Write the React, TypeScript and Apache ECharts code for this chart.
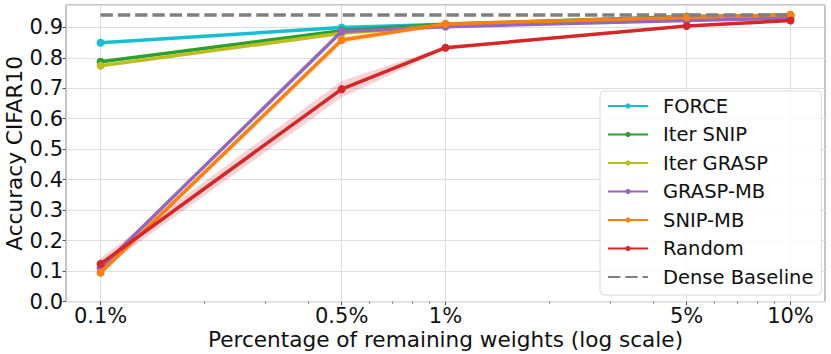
import React, { useEffect, useRef } from "react";
import * as echarts from "echarts";

// ---- data ----
const xValues = [0.1, 0.5, 1, 5, 10];
const xTickLabels = ["0.1%", "0.5%", "1%", "5%", "10%"];
const xMinorTicks = [0.2, 0.3, 0.4, 0.6, 0.7, 0.8, 0.9, 2, 3, 4, 6, 7, 8, 9];

const seriesNames = ["FORCE", "Iter SNIP", "Iter GRASP", "GRASP-MB", "SNIP-MB", "Random", "Dense Baseline"];
const force = [0.849, 0.899, 0.91, 0.932, 0.936];
const iterSnip = [0.787, 0.889, 0.91, 0.935, 0.94];
const iterGrasp = [0.774, 0.88, 0.906, 0.93, 0.936];
const graspMb = [0.11, 0.886, 0.902, 0.922, 0.93];
const snipMb = [0.095, 0.858, 0.911, 0.933, 0.941];
const random = [0.124, 0.697, 0.833, 0.904, 0.922];
const dense = [0.94, 0.94, 0.94, 0.94, 0.94];
const randomStd = [0.02, 0.027, 0.005, 0.004, 0.003];
const snipMbStd = [0.008, 0.012, 0.004, 0.003, 0.002];

const colors = ["#17becf", "#2ca02c", "#bcbd22", "#9467bd", "#ff7f0e", "#d62728", "#7f7f7f"];

const FONT = "DejaVu Sans";

function pairs(ys: number[]) {
  return xValues.map((x, i) => [x, ys[i]]);
}

function band(name: string, mean: number[], std: number[], fill: string) {
  return {
    type: "custom",
    id: name,
    silent: true,
    z: 1,
    xAxisIndex: 0,
    yAxisIndex: 0,
    data: [[xValues[0], mean[0]]],
    encode: { x: 0, y: 1 },
    renderItem: (_params: any, api: any) => {
      const upper = xValues.map((x, i) => api.coord([x, mean[i] + std[i]]));
      const lower = xValues.map((x, i) => api.coord([x, mean[i] - std[i]])).reverse();
      return {
        type: "polygon",
        shape: { points: upper.concat(lower) },
        style: { fill },
      };
    },
  };
}

export default function App() {
  const ref = useRef<HTMLDivElement>(null);
  useEffect(() => {
    if (!ref.current) return;
    const chart = echarts.init(ref.current, undefined, { renderer: "svg" });
    const lineData = [force, iterSnip, iterGrasp, graspMb, snipMb, random];
    const lines: any[] = lineData.map((d, i) => ({
      type: "line",
      name: seriesNames[i],
      data: pairs(d),
      xAxisIndex: 0,
      yAxisIndex: 0,
      symbol: "circle",
      symbolSize: 8,
      showSymbol: true,
      z: 3 + i,
      lineStyle: { width: 3.5, color: colors[i] },
      itemStyle: { color: colors[i] },
    }));
    lines.push({
      type: "line",
      name: seriesNames[6],
      data: pairs(dense),
      xAxisIndex: 0,
      yAxisIndex: 0,
      symbol: "none",
      showSymbol: false,
      z: 10,
      lineStyle: { width: 3.5, color: colors[6], type: [12.3, 5] },
      itemStyle: { color: colors[6] },
    });

    const legendData: any[] = seriesNames.map((n, i) =>
      i === 6 ? { name: n, itemStyle: { opacity: 0 } } : { name: n }
    );

    const option: any = {
      animation: false,
      backgroundColor: "#fff",
      grid: {
        left: 66,
        right: 6,
        top: 5,
        bottom: 52.3,
        outerBoundsMode: "none",
        containLabel: false,
        show: true,
        borderColor: "#8a8a8a",
        borderWidth: 1,
        backgroundColor: "transparent",
      },
      legend: {
        orient: "vertical",
        left: 600,
        top: 91,
        data: legendData,
        itemWidth: 40,
        itemHeight: 6.5,
        itemGap: 8.5,
        textStyle: { fontSize: 19.5, fontFamily: FONT, color: "#111", padding: [0, 0, 0, 10] },
        backgroundColor: "rgba(255,255,255,0.8)",
        borderColor: "#d9d9d9",
        borderWidth: 1,
        borderRadius: 4,
        padding: [5, 8, 8, 7],
      },
      xAxis: [
        {
          type: "log",
          logBase: 10,
          min: 0.0794,
          max: 12.59,
          position: "bottom",
          name: "Percentage of remaining weights (log scale)",
          nameLocation: "middle",
          nameGap: 27,
          nameMoveOverlap: false,
          nameTextStyle: { fontSize: 21.6, fontFamily: FONT, color: "#111" },
          axisLine: { show: false },
          axisTick: { show: true, customValues: xValues, length: 3.5, lineStyle: { color: "#555", width: 1 } },
          axisLabel: {
            customValues: xValues,
            margin: 4,
            fontSize: 21,
            fontFamily: FONT,
            color: "#111",
            formatter: (v: number) => {
              const idx = xValues.findIndex((x) => Math.abs(x - v) < 1e-6 * Math.max(1, x));
              return idx >= 0 ? xTickLabels[idx] : v + "%";
            },
          },
          splitLine: { show: true, lineStyle: { color: "#dedede", width: 1 } },
        },
        {
          type: "log",
          logBase: 10,
          min: 0.0794,
          max: 12.59,
          position: "bottom",
          axisLine: { show: false },
          axisTick: { show: true, customValues: xMinorTicks, length: 2, lineStyle: { color: "#555", width: 0.8 } },
          axisLabel: { show: false },
          splitLine: { show: false },
        },
      ],
      yAxis: {
        type: "value",
        min: 0,
        max: 0.973,
        interval: 0.1,
        name: "Accuracy CIFAR10",
        nameLocation: "middle",
        nameGap: 41,
        nameMoveOverlap: false,
        nameTextStyle: { fontSize: 21.6, fontFamily: FONT, color: "#111" },
        axisLine: { show: false },
        axisTick: { show: true, length: 3.5, lineStyle: { color: "#555", width: 1 } },
        axisLabel: {
          showMaxLabel: false,
          margin: 3,
          fontSize: 21,
          fontFamily: FONT,
          color: "#111",
          formatter: (v: number) => v.toFixed(1),
        },
        splitLine: { show: true, lineStyle: { color: "#dedede", width: 1 } },
      },
      series: [
        band("snipBand", snipMb, snipMbStd, "rgba(255,127,14,0.2)"),
        band("randomBand", random, randomStd, "rgba(214,39,40,0.2)"),
        ...lines,
      ],
    };
    chart.setOption(option);
    return () => chart.dispose();
  }, []);
  return (
    <div
      ref={ref}
      style={{ position: "fixed", left: 0, top: 0, width: 831, height: 354 }}
    />
  );
}
